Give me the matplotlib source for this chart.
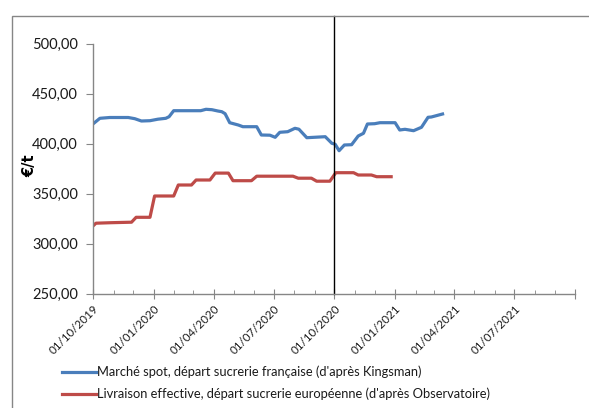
import matplotlib
matplotlib.use("Agg")
import matplotlib.pyplot as plt
import matplotlib.dates as mdates
from matplotlib.patches import Rectangle
import pandas as pd

plt.rcParams['font.family'] = ['Lato', 'DejaVu Sans']

spot_dates = ["2019-10-01", "2019-10-11", "2019-10-26", "2019-11-23", "2019-12-03",
              "2019-12-13", "2019-12-26", "2020-01-07", "2020-01-19", "2020-01-24",
              "2020-01-31", "2020-02-25", "2020-03-12", "2020-03-20", "2020-03-29",
              "2020-04-07", "2020-04-13", "2020-04-18", "2020-04-25", "2020-05-08",
              "2020-05-15", "2020-06-05", "2020-06-12", "2020-06-25", "2020-07-03",
              "2020-07-10", "2020-07-22", "2020-08-02", "2020-08-08", "2020-08-20",
              "2020-09-17", "2020-09-27", "2020-10-02", "2020-10-08", "2020-10-16",
              "2020-10-27", "2020-11-06", "2020-11-14", "2020-11-20", "2020-12-01",
              "2020-12-09", "2021-01-01", "2021-01-08", "2021-01-16", "2021-01-29",
              "2021-02-10", "2021-02-20", "2021-02-25", "2021-03-14"]
spot_values = [420.0, 425.4, 426.2, 426.2, 425.0,
               422.7, 423.0, 424.5, 425.4, 427.0,
               433.0, 433.0, 433.0, 434.4, 434.0,
               432.7, 432.0, 430.0, 421.0, 418.7,
               417.0, 417.0, 408.7, 408.5, 406.4,
               411.4, 412.0, 415.4, 414.5, 406.0,
               407.0, 400.4, 399.5, 393.0, 398.7,
               399.0, 407.7, 410.4, 419.7, 420.0,
               421.0, 421.0, 413.7, 414.4, 413.0,
               416.4, 426.4, 426.7, 429.7]

livr_dates = ["2019-10-01", "2019-10-05", "2019-10-28", "2019-11-28", "2019-12-05",
              "2019-12-26", "2020-01-02", "2020-01-31", "2020-02-07", "2020-02-27",
              "2020-03-05", "2020-03-26", "2020-04-03", "2020-04-23", "2020-04-30",
              "2020-05-28", "2020-06-05", "2020-07-30", "2020-08-07", "2020-08-27",
              "2020-09-04", "2020-09-24", "2020-10-03", "2020-10-30", "2020-11-06",
              "2020-11-26", "2020-12-04", "2020-12-26"]
livr_values = [318.0, 320.5, 321.0, 321.5, 326.4,
               326.4, 347.7, 347.7, 358.7, 358.7,
               363.7, 363.7, 370.6, 370.6, 363.0,
               363.0, 367.5, 367.5, 365.5, 365.5,
               362.5, 362.5, 371.0, 371.0, 368.7,
               368.7, 367.0, 367.0]

series_labels = ["Marché spot, départ sucrerie française (d'après Kingsman)",
                 "Livraison effective, départ sucrerie européenne (d'après Observatoire)"]
y_ticks = [250, 300, 350, 400, 450, 500]
x_ticks = ["2019-10-01", "2020-01-01", "2020-04-01", "2020-07-01", "2020-10-01",
           "2021-01-01", "2021-04-01", "2021-07-01", "2021-10-01"]
marker_date = "2020-10-01"

fig = plt.figure(figsize=(5.89, 4.08), dpi=100)
ax = fig.add_axes([93.3/589, (408-293.7)/408, (575-93.3)/589, 250/408])

blue = "#4A7EBB"
red = "#BE4B48"
gray = "#868686"
txt = "#1a1a1a"

ax.plot(pd.to_datetime(spot_dates), spot_values, color=blue, lw=2.3, solid_joinstyle='round')
ax.plot(pd.to_datetime(livr_dates), livr_values, color=red, lw=2.3, solid_joinstyle='round')

xt = pd.to_datetime(x_ticks)
ax.set_xlim(xt[0], xt[-1])
ax.set_ylim(250, 500)
ax.set_yticks(y_ticks)
ax.set_yticklabels([f"{v:.2f}".replace(".", ",") for v in y_ticks], fontsize=10.5, color=txt)
ax.set_xticks(xt)
ax.set_xticklabels([d.strftime("%d/%m/%Y") for d in xt[:-1]] + [""], rotation=45,
                   ha="right", va="top", rotation_mode="anchor", fontsize=8.3, color=txt)
ax.xaxis.set_minor_locator(mdates.MonthLocator())
ax.tick_params(axis='x', which='major', direction='inout', length=7, color=gray, pad=3)
ax.tick_params(axis='x', which='minor', direction='in', length=3, color=gray)
ax.tick_params(axis='y', which='major', direction='out', length=5, color=gray, pad=6)

for s in ['top', 'right']:
    ax.spines[s].set_visible(False)
for s in ['left', 'bottom']:
    ax.spines[s].set_color(gray)
    ax.spines[s].set_linewidth(1.0)

ax.set_ylabel("€/t", fontsize=10.5, fontweight='bold', family=['DejaVu Sans'])
ax.yaxis.set_label_coords((37 - 93.3) / (575 - 93.3), (293.7 - 166) / 250)

ax.axvline(pd.to_datetime(marker_date), ymin=0, ymax=(293.7-16)/250, color="black",
           lw=1.0, clip_on=False)

# legend entries below the chart
for i, lab in enumerate(series_labels):
    yy = 1 - (372 + 22*i)/408
    col = blue if i == 0 else red
    fig.add_artist(plt.Line2D([62/589, 96/589], [yy, yy], color=col, lw=2.3,
                              transform=fig.transFigure))
    fig.text(97/589, yy, lab, fontsize=9.3, va='center', ha='left', color=txt)

# outer frame
fig.add_artist(Rectangle((12/589, -0.1), 1.2, 1 - 16/408 + 0.1, transform=fig.transFigure,
                         fill=False, edgecolor=gray, lw=1.0))

fig.savefig("out.png", dpi=100)
